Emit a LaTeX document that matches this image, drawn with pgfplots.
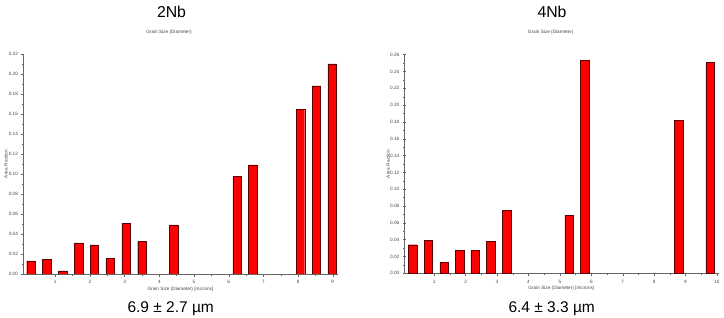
\documentclass[border=0pt]{standalone}
\usepackage{pgfplots}
\pgfplotsset{compat=1.18}
\usepackage{fontspec}
\setmainfont{Liberation Sans}
\definecolor{barred}{RGB}{255,0,0}
\definecolor{baredge}{RGB}{90,0,0}
\definecolor{tickgray}{RGB}{70,70,70}
\pgfplotsset{
  histo/.style={
    scale only axis,
    anchor=south west,
    axis lines*=left,
    axis line style={draw=black!60, line width=0.5pt},
    ymin=0,
    tick align=center,
    major tick length=3pt, minor tick length=2pt,
    tick style={draw=black!60, line width=0.4pt},
    ticklabel style={font=\fontsize{4.7}{5}\selectfont, text=tickgray},
    /pgf/number format/assume math mode=true,
    yticklabel style={/pgf/number format/.cd, fixed, fixed zerofill, precision=2},
    scaled y ticks=false,
    minor x tick num=1, minor y tick num=1,
    ytick distance=0.02,
    ybar, bar width=8.5pt, bar shift=0pt,
    label style={font=\fontsize{4.7}{5}\selectfont, text=tickgray},
    xlabel={Grain Size (Diameter) [microns]},
    ylabel={Area Fraction},
    xlabel style={at={(axis description cs:0.5,0)}, anchor=center, yshift=-15pt},
  },
  bars/.style={fill=barred, draw=baredge, line width=0.4pt},
}
\begin{document}
\begin{tikzpicture}
\useasboundingbox (0,0) rectangle (724pt,318pt);
% Left: 2Nb
\begin{axis}[histo,
  at={(23pt,44pt)}, width=315pt, height=220pt,
  xmin=0.07, xmax=9.15, ymax=0.22,
  xtick={1,...,9},
  ylabel style={at={(axis description cs:-0.054,0.5)}, anchor=center}]
\addplot[bars] coordinates {
 (0.300,0.0130) (0.757,0.0145) (1.214,0.0030) (1.671,0.0310)
 (2.128,0.0290) (2.585,0.0155) (3.042,0.0505) (3.499,0.0325)
 (4.413,0.0490) (6.241,0.0975) (6.698,0.1090) (8.069,0.1645)
 (8.526,0.1880) (8.983,0.2100)};
\end{axis}
% Right: 4Nb
\begin{axis}[histo,
  at={(404.3pt,44.7pt)}, width=314.2pt, height=218.6pt,
  xmin=0.045, xmax=10.05, ymax=0.26,
  xtick={1,...,10},
  ylabel style={at={(axis description cs:-0.051,0.5)}, anchor=center}]
\addplot[bars] coordinates {
 (0.310,0.0340) (0.810,0.0395) (1.310,0.0130) (1.805,0.0275)
 (2.300,0.0270) (2.800,0.0380) (3.300,0.0750) (5.295,0.0690)
 (5.790,0.2530) (8.780,0.1820) (9.780,0.2505)};
\end{axis}
% titles
\node[font=\fontsize{15.8}{18}\selectfont] at (171.5pt,306.3pt) {2Nb};
\node[font=\fontsize{4.7}{5}\selectfont, text=tickgray] at (169pt,285.3pt) {Grain Size (Diameter)};
\node[font=\fontsize{15.8}{18}\selectfont] at (552pt,306.3pt) {4Nb};
\node[font=\fontsize{4.7}{5}\selectfont, text=tickgray] at (550.7pt,285.3pt) {Grain Size (Diameter)};
\node[font=\fontsize{15.5}{18}\selectfont] at (170.7pt,9pt) {6.9 ± 2.7 µm};
\node[font=\fontsize{15.5}{18}\selectfont] at (551.7pt,9pt) {6.4 ± 3.3 µm};
\end{tikzpicture}
\end{document}
